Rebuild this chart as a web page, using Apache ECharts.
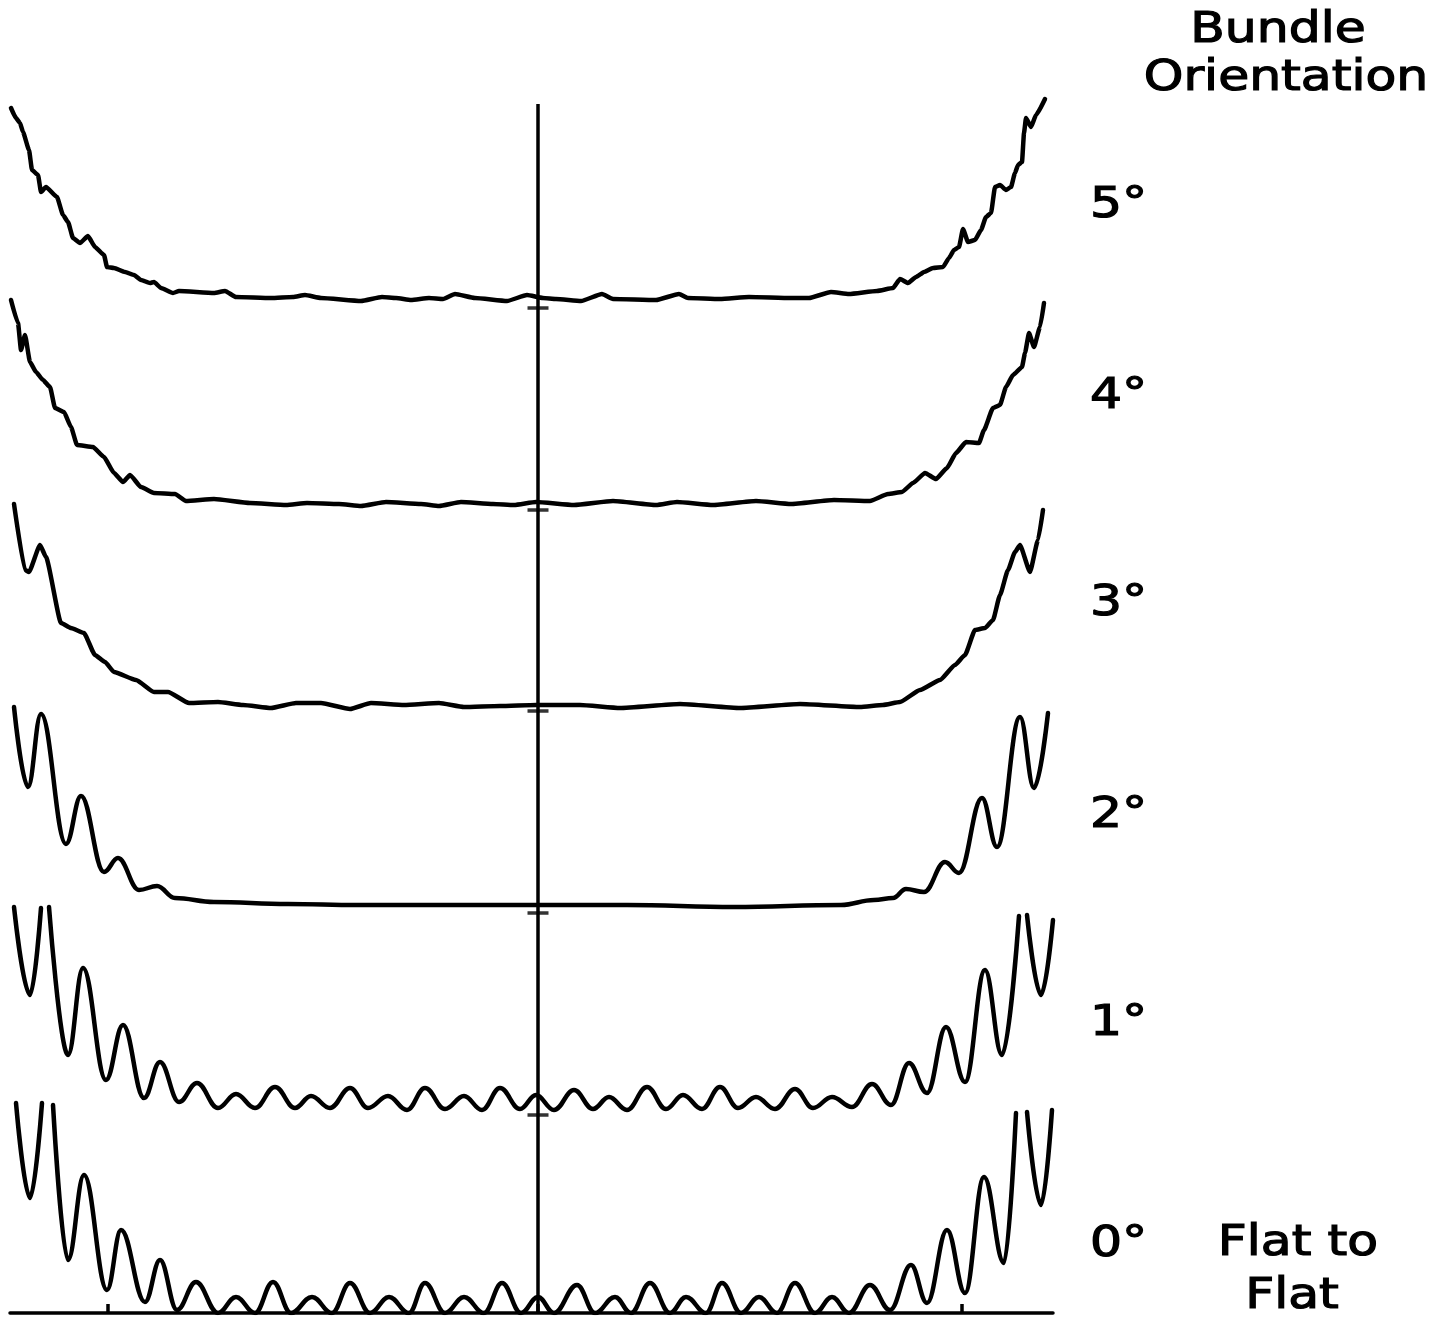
<!DOCTYPE html>
<html>
<head>
<meta charset="utf-8">
<script src="https://cdn.jsdelivr.net/npm/echarts@6/dist/echarts.min.js"></script>
<style>
  html, body { margin: 0; padding: 0; background: #fff; }
  #chart { width: 1447px; height: 1317px; }
</style>
</head>
<body>
<div id="chart"></div>
<script>
// position along the scan (center = 0) and tick marks on the bottom axis
const posMin = -528
const posMax = 515
const posTicks = [-430, 0, 424]

// orientation labels, bottom trace first
const angleLabels = ['0°', '1°', '2°', '3°', '4°', '5°']
// vertical offset of each trace baseline
const traceOffsets = [0, 203, 407, 607, 810, 1015]
// small reference marks on the center line
const refMarks = [198, 400, 602, 803, 1005]
const centerTop = 1209

// intensity profiles [position, intensity above baseline]; null = pen off scale
const trace0 = [[-522,210],[-508,115],[-496,210],null,[-485,208],[-470,53],[-454,138],[-431,23],[-417,83],[-393,11],[-378,53],[-361,3],[-342,31],[-320,0],[-302,16],[-283,0],[-265,31],[-247,0],[-226,16],[-206,0],[-188,30],[-168,0],[-149,16],[-129,0],[-113,30],[-93,0],[-74,16],[-54,0],[-36,30],[-17,0],[0,16],[16,0],[39,28],[57,0],[77,16],[93,0],[112,30],[132,0],[148,16],[168,0],[184,30],[203,0],[221,16],[239,0],[257,30],[277,0],[294,16],[311,0],[332,28],[352,3],[373,48],[389,10],[409,83],[427,20],[446,136],[466,50],[478,200],null,[489,201],[503,108],[514,203]]
const trace1 = [[-524,203],[-508,115],[-497,202],null,[-489,203],[-470,55],[-455,142],[-432,30],[-415,85],[-394,12],[-378,48],[-359,8],[-341,27],[-320,2],[-302,16],[-283,2],[-263,23],[-243,2],[-227,14],[-208,2],[-188,22],[-170,2],[-150,14],[-131,0],[-113,22],[-93,1],[-74,14],[-56,0],[-38,22],[-18,1],[-2,15],[16,0],[36,20],[55,1],[71,13],[89,0],[109,23],[128,1],[145,15],[164,1],[182,23],[200,2],[218,13],[237,1],[257,21],[275,2],[294,13],[314,3],[334,26],[353,5],[371,47],[389,17],[408,83],[427,28],[447,140],[464,55],[481,194],null,[489,195],[503,115],[515,190]]
const trace2 = [[-524,199],[-510,119],[-497,192],[-472,62],[-457,110],[-434,34],[-420,48],[-399,16],[-381,20],[-363,8],[-324,4],[-250,2],[-181,1],[-100,1],[0,1],[89,1],[196,-1],[303,1],[336,6],[355,8],[368,17],[386,14],[407,44],[421,33],[444,108],[459,59],[482,189],[496,118],[510,193]]
const trace3 = [[-524,202],[-513,136],[-509,134],[-498,161],[-492,149],[-477,83],[-467,78],[-454,73],[-443,51],[-433,44],[-424,34],[-402,26],[-384,14],[-370,14],[-349,3],[-320,4],[-295,1],[-267,-2],[-242,3],[-217,3],[-188,-3],[-167,3],[-134,1],[-99,3],[-74,-1],[-38,0],[-2,1],[42,1],[82,-2],[142,2],[202,-2],[262,2],[322,-1],[345,1],[362,4],[382,16],[402,26],[417,41],[427,51],[437,76],[447,78],[455,86],[462,111],[470,136],[477,154],[482,161],[492,134],[500,166],[505,196]]
const trace4 = [[-527,203],[-520,180],[-517,153],[-513,168],[-508,141],[-502,131],[-495,123],[-488,116],[-483,95],[-474,91],[-467,76],[-461,58],[-445,56],[-434,46],[-424,30],[-415,21],[-408,28],[-397,16],[-384,10],[-363,9],[-352,2],[-324,4],[-288,0],[-252,-2],[-231,0],[-199,-1],[-177,-3],[-152,1],[-117,-1],[-99,-3],[-77,1],[-45,-1],[-24,-2],[-2,1],[36,-2],[75,2],[118,-2],[139,1],[175,-2],[218,2],[253,-1],[296,3],[332,2],[350,9],[364,11],[375,20],[387,30],[398,24],[409,35],[418,50],[428,61],[441,60],[446,73],[455,95],[462,98],[468,116],[475,128],[484,136],[487,150],[491,170],[496,156],[502,176],[506,200]]
const trace5 = [[-527,190],[-522,180],[-518,175],[-515,166],[-509,148],[-506,128],[-500,123],[-497,106],[-492,111],[-481,101],[-475,83],[-470,76],[-465,60],[-458,55],[-450,62],[-443,51],[-434,43],[-431,31],[-424,30],[-413,26],[-404,23],[-397,18],[-388,15],[-384,16],[-377,10],[-365,5],[-359,7],[-324,5],[-313,7],[-302,1],[-267,0],[-245,1],[-233,3],[-217,0],[-177,-3],[-156,1],[-142,0],[-127,-2],[-109,0],[-95,-1],[-83,4],[-63,0],[-31,-3],[-11,3],[5,0],[18,-1],[43,-3],[64,4],[75,-1],[118,-2],[141,4],[150,0],[182,-1],[211,1],[253,0],[271,0],[293,6],[311,4],[339,7],[355,10],[362,19],[370,15],[378,21],[386,26],[395,30],[405,31],[411,40],[416,48],[421,51],[425,69],[430,56],[437,58],[443,68],[448,81],[453,85],[457,111],[462,113],[468,108],[473,111],[477,125],[480,133],[484,136],[486,165],[488,180],[493,171],[498,183],[507,199]]

const traces = [trace0, trace1, trace2, trace3, trace4, trace5]
// label heights (same units as the traces)
const labelLevels = [68, 289, 497, 709, 916, 1107]

let myChart = echarts.init(document.getElementById('chart'))

const ink = '#000'
const font = 'DejaVu Sans'

let series = traces.map(function (tr, i) {
  return {
    type: 'line',
    name: angleLabels[i],
    data: tr.map(p => p === null ? '-' : [p[0], p[1] + traceOffsets[i]]),
    showSymbol: false,
    smooth: i < 3 ? 0.4 : 0.15,
    smoothMonotone: 'x',
    connectNulls: false,
    lineStyle: { color: ink, width: 4.5, cap: 'round', join: 'round' },
    silent: true,
    animation: false
  }
})

// center line
series.push({
  type: 'line',
  data: [[0, 0], [0, centerTop]],
  showSymbol: false,
  lineStyle: { color: ink, width: 3.5 },
  animation: false
})
// reference dashes on center line
series.push({
  type: 'scatter',
  data: refMarks.map(v => [0, v]),
  symbol: 'rect',
  symbolSize: [21, 3.5],
  itemStyle: { color: ink },
  animation: false
})

// text on the right
let texts = [
  { text: 'Bundle', x: 1278, y: 31, align: 'center' },
  { text: 'Orientation', x: 1286, y: 79, align: 'center' },
  { text: 'Flat to', x: 1298, y: 1244, align: 'center' },
  { text: 'Flat', x: 1292, y: 1297, align: 'center' }
]
angleLabels.forEach(function (lab, i) {
  texts.push({ text: lab, x: 1090, y: 1313 - labelLevels[i], align: 'left' })
})

const option = {
  backgroundColor: '#fff',
  animation: false,
  grid: { left: 10, right: 394, top: 90, bottom: 4, containLabel: false },
  xAxis: {
    type: 'value',
    min: posMin,
    max: posMax,
    axisLine: { show: true, lineStyle: { color: ink, width: 3.5 } },
    axisTick: { show: true, inside: true, length: 9, customValues: posTicks, lineStyle: { color: ink, width: 3.5 } },
    axisLabel: { show: false },
    splitLine: { show: false }
  },
  yAxis: {
    type: 'value',
    min: 0,
    max: 1223,
    show: false,
    splitLine: { show: false }
  },
  series: series,
  graphic: texts.map(t => ({
    type: 'text',
    x: t.x,
    y: t.y,
    scaleX: 1.2,
    style: {
      text: t.text,
      fill: ink,
      stroke: ink,
      lineWidth: 1.2,
      font: '42px "' + font + '"',
      textAlign: t.align,
      textVerticalAlign: 'middle'
    }
  }))
}

myChart.setOption(option)
window.onresize = function () {
  myChart.resize()
}
</script>
</body>
</html>
